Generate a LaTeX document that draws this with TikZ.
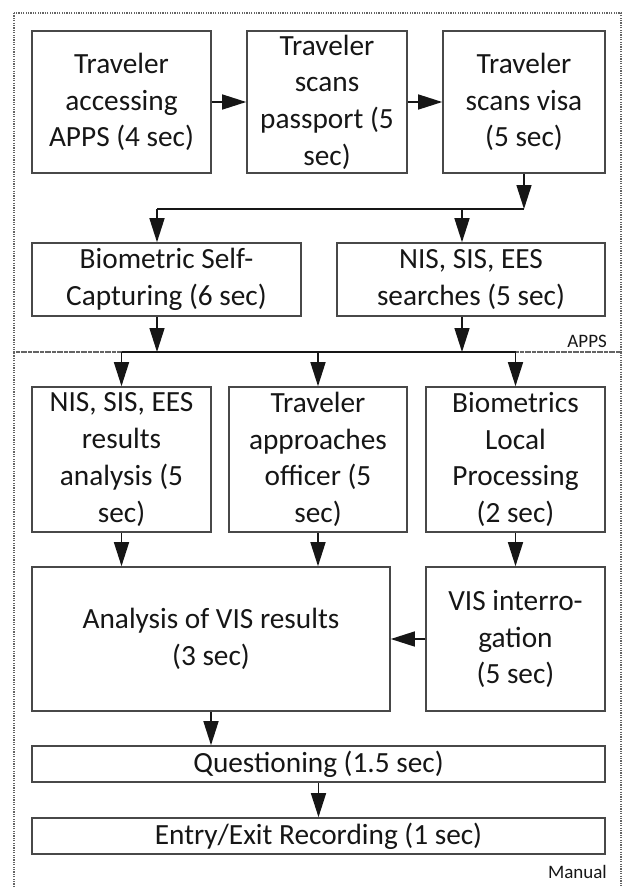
\documentclass[tikz,border=0pt]{standalone}
\usepackage{fontspec}
\setmainfont{Carlito}
\usetikzlibrary{arrows.meta,positioning}
\definecolor{boxline}{RGB}{72,72,72}
\definecolor{zonegray}{RGB}{100,100,100}
\definecolor{inkblack}{RGB}{22,22,22}
\newcommand{\stagefont}{\fontsize{29.3}{36.7}\selectfont}
\newcommand{\zonefont}{\fontsize{19}{23}\selectfont}

\begin{document}
\begin{tikzpicture}[x=1pt,y=-1pt,
  stage/.style={rectangle,draw=boxline,line width=1.6pt,inner sep=0pt,
    align=center,text=inkblack,font=\stagefont},
  flow/.style={-{Triangle[length=24pt,width=15pt]},line width=1.5pt,inkblack},
  link/.style={line width=1.5pt,inkblack},
  zone/.style={draw=zonegray,line width=1.4pt,dash pattern=on 1.2pt off 1.2pt},
  zonelabel/.style={anchor=east,inner sep=0pt,text=inkblack,font=\zonefont}
]
\useasboundingbox (0,0) rectangle (624,887);
% APPS and Manual zones
\draw[zone] (14,13) rectangle (621,352);
\draw[zone] (14,887) -- (14,352) -- (621,352) -- (621,887);
\node[zonelabel] (appslbl) at (607,341) {APPS};
\node[zonelabel] (manuallbl) at (607,872) {Manual};
% self-service steps
\node[stage,minimum width=179pt,minimum height=142pt] (travapps) at (121.5,102) {Traveler\\accessing\\APPS (4 sec)};
\node[stage,minimum width=160pt,minimum height=142pt] (scanpass) at (327,102) {Traveler\\scans\\passport (5\\sec)};
\node[stage,minimum width=162pt,minimum height=142pt] (scanvisa) at (524,102) {Traveler\\scans visa\\(5 sec)};
\node[stage,minimum width=269pt,minimum height=73pt] (selfcap) at (166.5,279.5) {Biometric Self-\\Capturing (6 sec)};
\node[stage,minimum width=268pt,minimum height=73pt] (nissearch) at (471,279.5) {NIS, SIS, EES\\searches (5 sec)};
% officer steps
\node[stage,minimum width=179pt,minimum height=145pt] (nisres) at (121.5,459.5) {NIS, SIS, EES\\results\\analysis (5\\sec)};
\node[stage,minimum width=178pt,minimum height=145pt] (approach) at (318,459.5) {Traveler\\approaches\\officer (5\\sec)};
\node[stage,minimum width=179pt,minimum height=145pt] (bioproc) at (515.5,459.5) {Biometrics\\Local\\Processing\\(2 sec)};
\node[stage,minimum width=358pt,minimum height=144pt] (visana) at (211,639) {Analysis of VIS results\\(3 sec)};
\node[stage,minimum width=179pt,minimum height=144pt] (visint) at (515.5,639) {VIS interro-\\gation\\(5 sec)};
\node[stage,minimum width=573pt,minimum height=36pt] (question) at (318.5,764) {Questioning (1.5 sec)};
\node[stage,minimum width=573pt,minimum height=36pt] (record) at (318.5,836) {Entry/Exit Recording (1 sec)};
% fork and join points
\coordinate (fork) at (524,209);
\coordinate (forkL) at (157,209);
\coordinate (forkM) at (462,209);
\coordinate (joinL) at (121.5,352);
\coordinate (joinR) at (515.5,352);
% connectors
\draw[flow] (travapps) -- (scanpass);
\draw[flow] (scanpass) -- (scanvisa);
\draw[flow] (scanvisa) -- (fork);
\draw[link] (fork) -- (forkL);
\draw[flow] (forkL) -- (forkL |- selfcap.north);
\draw[flow] (forkM) -- (forkM |- nissearch.north);
\draw[flow] (forkL |- selfcap.south) -- (forkL |- joinL);
\draw[flow] (forkM |- nissearch.south) -- (forkM |- joinL);
\draw[link] (joinL) -- (joinR);
\draw[flow] (joinL) -- (nisres);
\draw[flow] (approach |- joinL) -- (approach);
\draw[flow] (joinR) -- (bioproc);
\draw[flow] (nisres.south) -- (nisres.south |- visana.north);
\draw[flow] (approach.south) -- (approach.south |- visana.north);
\draw[flow] (bioproc) -- (visint);
\draw[flow] (visint) -- (visana);
\draw[flow] (visana.south) -- (visana.south |- question.north);
\draw[flow] (question) -- (record);
\end{tikzpicture}
\end{document}
